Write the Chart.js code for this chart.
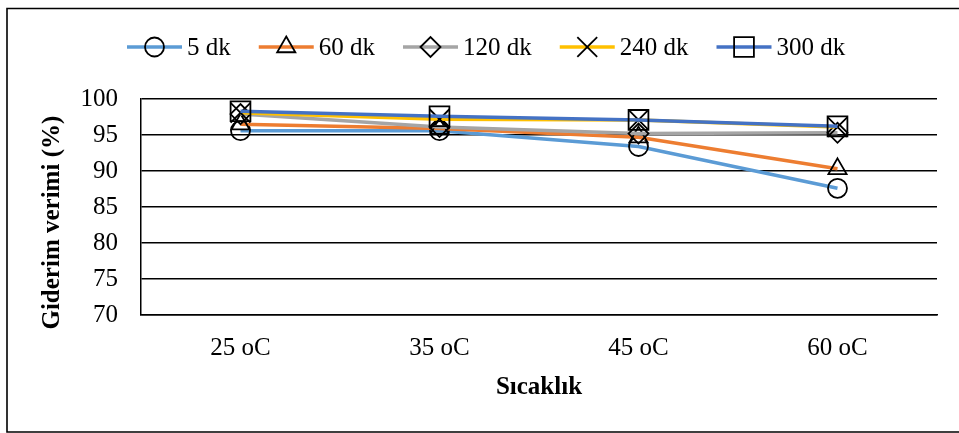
<!DOCTYPE html>
<html>
<head>
<meta charset="utf-8">
<script src="https://cdn.jsdelivr.net/npm/chart.js@4/dist/chart.umd.min.js"></script>
<style>
  html, body { margin: 0; padding: 0; background: #fff; }
  #wrap { width: 959px; height: 433px; position: relative; }
</style>
</head>
<body>
<div id="wrap"><canvas id="chart" width="959" height="433"></canvas></div>
<script>
// data
const categories = ['25 oC', '35 oC', '45 oC', '60 oC'];
const seriesNames = ['5 dk', '60 dk', '120 dk', '240 dk', '300 dk'];
const dk5   = [95.6, 95.6, 93.4, 87.6];
const dk60  = [96.5, 95.9, 94.7, 90.3];
const dk120 = [97.9, 96.1, 95.2, 95.3];
const dk240 = [98.1, 97.2, 97.1, 96.1];
const dk300 = [98.3, 97.6, 97.1, 96.2];
const yTicks = [70, 75, 80, 85, 90, 95, 100];

const FONT = "'Liberation Serif', 'Times New Roman', serif";

// line colours + marker shapes (office palette)
const colors = ['#5B9BD5', '#ED7D31', '#A5A5A5', '#FFC000', '#4472C4'];
const markers = [
    { style: 'circle', r: 9.5 },
    { style: 'triangle', r: 10.5 },
    { style: 'rectRot', r: 10 },
    { style: 'crossRot', r: 14 },
    { style: 'rect', r: 14 }
];
const values = [dk5, dk60, dk120, dk240, dk300];

// later series on top, like excel does it
const datasets = values.map((v, i) => ({
    label: seriesNames[i],
    data: v,
    order: values.length - 1 - i,
    borderColor: colors[i],
    backgroundColor: 'rgba(0,0,0,0)',
    borderWidth: 3.5,
    pointStyle: markers[i].style,
    pointRadius: markers[i].r,
    pointHoverRadius: markers[i].r,
    pointBorderColor: '#000',
    pointBackgroundColor: 'rgba(0,0,0,0)',
    pointBorderWidth: 1.8,
    tension: 0
}));

// legend drawn by hand so the line + marker sample looks like excel
const excelLegend = {
    id: 'excelLegend',
    afterDraw(chart) {
        const ctx = chart.ctx;
        ctx.save();
        ctx.font = '25px ' + FONT;
        ctx.textBaseline = 'middle';
        let x = 127;
        const y = 47;
        seriesNames.forEach((name, i) => {
            ctx.strokeStyle = colors[i];
            ctx.lineWidth = 3.5;
            ctx.beginPath();
            ctx.moveTo(x, y);
            ctx.lineTo(x + 55, y);
            ctx.stroke();
            ctx.strokeStyle = '#000';
            ctx.lineWidth = 1.8;
            ctx.fillStyle = 'rgba(0,0,0,0)';
            Chart.helpers.drawPoint(ctx, {
                pointStyle: markers[i].style,
                radius: markers[i].r,
                borderWidth: 1.8,
                rotation: 0
            }, x + 27.5, y);
            ctx.fillStyle = '#000';
            ctx.fillText(name, x + 60, y + 1);
            x += 60 + ctx.measureText(name).width + 28;
        });
        // outer frame
        ctx.strokeStyle = '#000';
        ctx.lineWidth = 1.6;
        ctx.beginPath();
        ctx.moveTo(980, 8.5);
        ctx.lineTo(7, 8.5);
        ctx.lineTo(7, 432);
        ctx.lineTo(980, 432);
        ctx.stroke();
        ctx.restore();
    }
};

new Chart(document.getElementById('chart').getContext('2d'), {
    type: 'line',
    data: { labels: categories, datasets: datasets },
    options: {
        responsive: false,
        animation: false,
        events: [],
        layout: { padding: { left: 0, right: 22, top: 99, bottom: 0 } },
        plugins: {
            legend: { display: false },
            tooltip: { enabled: false }
        },
        scales: {
            x: {
                offset: true,
                grid: { display: false, drawTicks: false },
                border: { display: true, color: '#000', width: 1.5 },
                ticks: { color: '#000', font: { family: FONT, size: 25 }, padding: 18, maxRotation: 0 },
                title: {
                    display: true,
                    text: 'Sıcaklık',
                    color: '#000',
                    font: { family: FONT, size: 25, weight: 'bold' },
                    padding: { top: 0, bottom: 30 }
                },
                afterFit(scale) { scale.height = 118; }
            },
            y: {
                min: 70,
                max: 100,
                afterBuildTicks(scale) { scale.ticks = yTicks.map(v => ({ value: v })); },
                grid: { color: '#000', lineWidth: 1.5, drawTicks: false },
                border: { display: true, color: '#000', width: 1.5 },
                ticks: { color: '#000', font: { family: FONT, size: 25 }, padding: 23 },
                title: {
                    display: true,
                    text: 'Giderim verimi (%)\u00a0\u00a0\u00a0\u00a0\u00a0',
                    color: '#000',
                    font: { family: FONT, size: 25, weight: 'bold' },
                    padding: { top: 38, bottom: 0 }
                },
                afterFit(scale) { scale.width = 141; }
            }
        }
    },
    plugins: [excelLegend]
});
</script>
</body>
</html>
